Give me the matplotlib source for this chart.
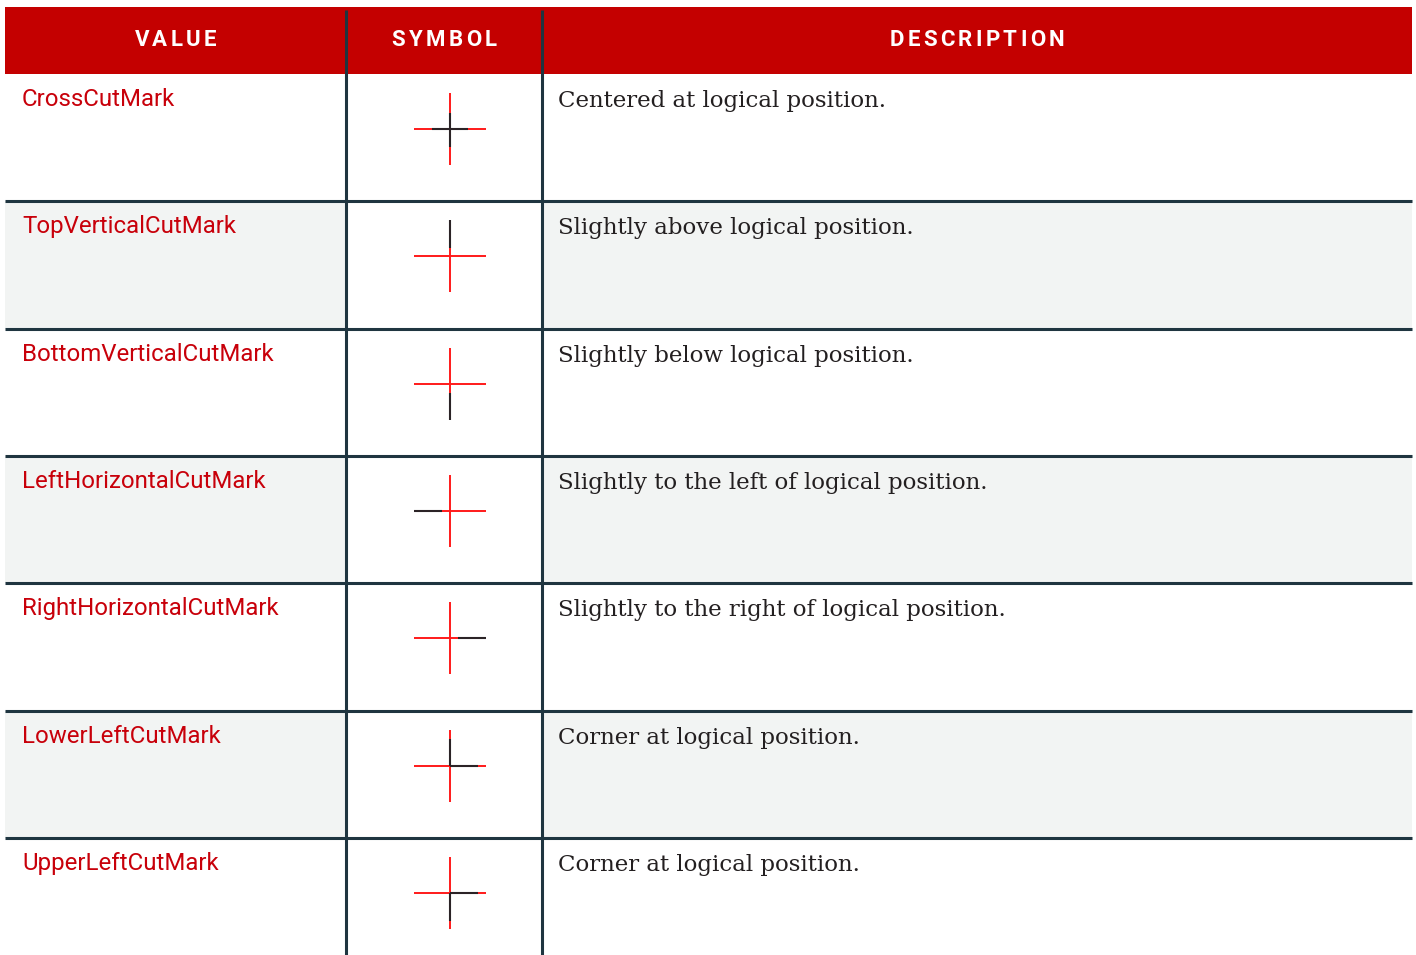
import matplotlib
matplotlib.use("Agg")
import matplotlib.pyplot as plt
from matplotlib.patches import Rectangle

# ---- data ----
headers = ["VALUE", "SYMBOL", "DESCRIPTION"]
values = ["CrossCutMark", "TopVerticalCutMark", "BottomVerticalCutMark",
          "LeftHorizontalCutMark", "RightHorizontalCutMark",
          "LowerLeftCutMark", "UpperLeftCutMark"]
descriptions = ["Centered at logical position.",
                "Slightly above logical position.",
                "Slightly below logical position.",
                "Slightly to the left of logical position.",
                "Slightly to the right of logical position.",
                "Corner at logical position.",
                "Corner at logical position."]
# highlighted (dark) segments of each mark, in units of the arm length (y downwards)
black_segments = [
    [((-0.5, 0), (0.5, 0)), ((0, -0.45), (0, 0.5))],
    [((0, -1), (0, -0.22))],
    [((0, 0.25), (0, 1))],
    [((-1, 0), (-0.22, 0))],
    [((0.22, 0), (1, 0))],
    [((0, -0.75), (0, 0)), ((0, 0), (0.78, 0))],
    [((0, 0), (0.78, 0)), ((0, 0), (0, 0.78))],
]

# ---- style ----
W, H = 1416, 955
HEADER_RED = "#c40000"
VALUE_RED = "#c8000a"
LINE = "#1f3540"
GRAY = "#f2f4f3"
MARK_RED = "#ff1a1a"
MARK_DARK = "#2b2326"

col_x = [5, 346, 542, 1412]
header_top, header_bot = 7, 74
row_h = 127.3

fig = plt.figure(figsize=(W / 100, H / 100), dpi=100)
ax = fig.add_axes([0, 0, 1, 1])
ax.set_xlim(0, W)
ax.set_ylim(H, 0)
ax.axis("off")

# header
ax.add_patch(Rectangle((col_x[0], header_top), col_x[-1] - col_x[0],
                       header_bot - header_top, color=HEADER_RED, lw=0, zorder=1))

renderer = fig.canvas.get_renderer()


def text_width(s, **kw):
    if not s:
        return 0.0
    t = ax.text(0, 0, s, **kw)
    w = t.get_window_extent(renderer).width
    t.remove()
    return w


def spaced_text(cx, y, s, spacing, **kw):
    total = text_width(s, **kw) + spacing * (len(s) - 1)
    x0 = cx - total / 2
    for i, ch in enumerate(s):
        ax.text(x0 + text_width(s[:i], **kw) + i * spacing, y, ch,
                ha="left", va="baseline", zorder=5, **kw)


hdr_kw = dict(fontsize=16, fontweight="bold", color="white", family="Roboto")
for i, h in enumerate(headers):
    cx = (col_x[i] + col_x[i + 1]) / 2
    spaced_text(cx, 46, h, 3.3, **hdr_kw)

# rows
n = len(values)
for i in range(n):
    top = header_bot + i * row_h
    bot = min(top + row_h, H)
    if i % 2 == 1:
        ax.add_patch(Rectangle((col_x[0], top), col_x[1] - col_x[0], bot - top,
                               color=GRAY, lw=0, zorder=1))
        ax.add_patch(Rectangle((col_x[2], top), col_x[3] - col_x[2], bot - top,
                               color=GRAY, lw=0, zorder=1))
    if i > 0:
        ax.plot([col_x[0], col_x[-1]], [top, top], color=LINE, lw=2.2,
                solid_capstyle="butt", zorder=3)
    ax.text(22, top + 32, values[i], fontsize=17.3, color=VALUE_RED,
            family="Roboto", ha="left", va="baseline", zorder=5)
    ax.text(558, top + 33, descriptions[i], fontsize=16.5, color="#231f20",
            family="DejaVu Serif", ha="left", va="baseline", zorder=5)

    # symbol
    cx, cy, arm = 450, top + 55, 36
    ax.plot([cx - arm, cx + arm], [cy, cy], color=MARK_RED, lw=1.4,
            solid_capstyle="butt", zorder=4)
    ax.plot([cx, cx], [cy - arm, cy + arm], color=MARK_RED, lw=1.4,
            solid_capstyle="butt", zorder=4)
    for (x1, y1), (x2, y2) in black_segments[i]:
        ax.plot([cx + x1 * arm, cx + x2 * arm], [cy + y1 * arm, cy + y2 * arm],
                color=MARK_DARK, lw=1.5, solid_capstyle="butt", zorder=4.5)

# column dividers
for x in col_x[1:3]:
    ax.plot([x, x], [10, H], color=LINE, lw=2.2, solid_capstyle="butt", zorder=6)

fig.savefig("out.png", dpi=100)
